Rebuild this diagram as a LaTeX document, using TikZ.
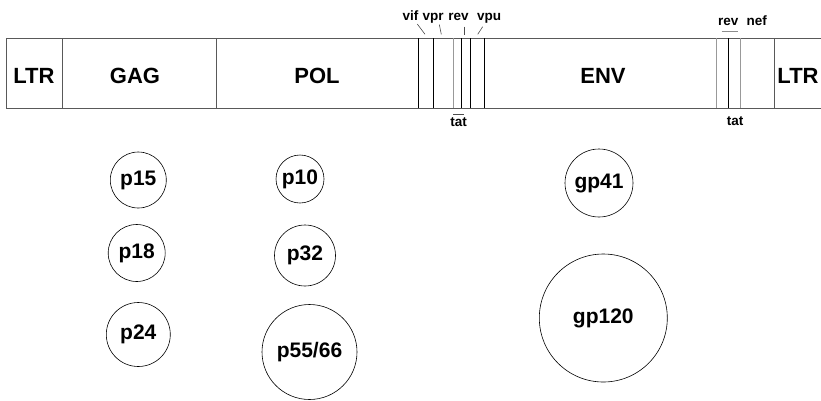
\documentclass[tikz,border=0pt]{standalone}
\usepackage{fontspec}
\setmainfont{Liberation Sans}
\begin{document}
\begin{tikzpicture}[x=1pt,y=-1pt,
  boxline/.style={draw=black!65,line width=1pt},
  darkdiv/.style={draw=black,line width=0.9pt},
  lightdiv/.style={draw=black!40,line width=0.9pt},
  biglabel/.style={font=\fontsize{22}{24}\selectfont\bfseries,inner sep=0pt},
  smalllabel/.style={font=\fontsize{13.5}{15}\selectfont\bfseries,inner sep=0pt,anchor=base},
  leader/.style={draw=black!70,line width=0.6pt},
  prot/.style={circle,draw=black,line width=0.6pt,inner sep=0pt,font=\fontsize{21}{23}\selectfont\bfseries}]
\useasboundingbox (0,0) rectangle (821,400);
% genome box
\coordinate (tl) at (6,38);
\coordinate (bl) at (6,108);
\coordinate (tr) at (821,38);
\coordinate (br) at (821,108);
\draw[boxline] (tr) -- (tl) -- (bl) -- (br);
\draw[boxline] (62,38) -- (62,108);
\draw[boxline] (216,38) -- (216,108);
\draw[darkdiv,line width=0.7pt] (418.7,38) -- (418.7,108);
\draw[darkdiv,line width=1pt] (433.7,38) -- (433.7,108);
\draw[lightdiv] (453.3,38) -- (453.3,108);
\draw[darkdiv,line width=0.8pt] (461,38) -- (461,108);
\draw[darkdiv] (470.7,38) -- (470.7,108);
\draw[darkdiv] (484.3,38) -- (484.3,108);
\draw[lightdiv] (716,38) -- (716,108);
\draw[darkdiv,line width=0.7pt] (728.7,38) -- (728.7,108);
\draw[lightdiv] (740.7,38) -- (740.7,108);
\draw[boxline] (774,38) -- (774,108);
% region labels
\node[biglabel] (ltr1) at (34,76) {LTR};
\node[biglabel] (gag) at (135,76) {GAG};
\node[biglabel] (pol) at (317,76) {POL};
\node[biglabel] (env) at (603,76) {ENV};
\node[biglabel] (ltr2) at (798,76) {LTR};
% small gene labels
\node[smalllabel] (vif) at (410.5,20) {vif};
\node[smalllabel] (vpr) at (433,20) {vpr};
\node[smalllabel] (rev1) at (458.5,20) {rev};
\node[smalllabel] (vpu) at (489,20) {vpu};
\draw[leader] (417.3,24) -- (425,34.3);
\draw[leader] (439.3,24.5) -- (441.3,34.3);
\draw[leader] (464.3,26.7) -- (464.3,35);
\draw[leader] (482.7,26.7) -- (477.7,34.3);
\node[smalllabel] (tat1) at (458.5,126) {tat};
\draw[leader] (453,113.8) -- (464,113.8);
\node[smalllabel] (rev2) at (728.3,25.5) {rev};
\node[smalllabel] (nef) at (756.7,25.5) {nef};
\draw[leader,draw=black!45,line width=0.8pt] (721.7,31.7) -- (737.7,31.7);
\node[smalllabel] (tat2) at (735,125.5) {tat};
% proteins
\node[prot,minimum size=56pt] (p15) at (138.3,180) {p15};
\node[prot,minimum size=57pt] (p18) at (136.7,253) {p18};
\node[prot,minimum size=64pt] (p24) at (138.3,334.5) {p24};
\node[prot,minimum size=48pt] (p10) at (300,179) {p10};
\node[prot,minimum size=61pt] (p32) at (305,255.5) {p32};
\node[prot,minimum size=95pt] (p55) at (309.5,352) {p55/66};
\node[prot,minimum size=68pt] (gp41) at (599,183) {gp41};
\node[prot,minimum size=128pt] (gp120) at (603.3,318) {gp120};
\end{tikzpicture}
\end{document}
